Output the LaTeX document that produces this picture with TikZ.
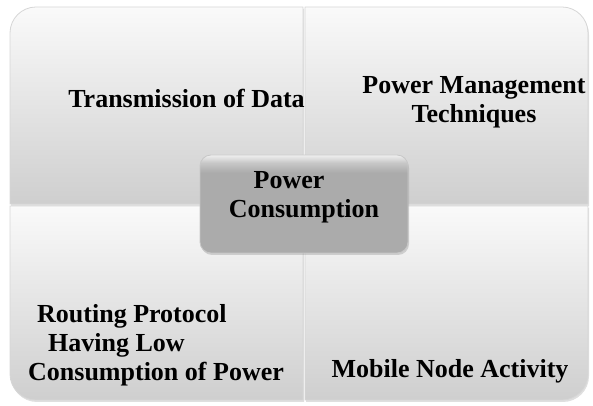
\documentclass[tikz,border=0pt]{standalone}
\usepackage{fontspec}
\setmainfont{Liberation Serif}
\usetikzlibrary{shadows}
\pgfdeclareverticalshading{coreshade}{100bp}{color(0bp)=(black!33); color(25bp)=(black!33); color(66bp)=(black!33); color(71bp)=(black!22); color(75bp)=(black!6); color(100bp)=(black!6)}

\begin{document}
\begin{tikzpicture}[
    x=1pt, y=1pt,
    quad/.style={draw=black!16, line width=0.8pt, top color=black!2, bottom color=black!19, drop shadow={opacity=0.25, shadow xshift=1pt, shadow yshift=-2pt}},
    core/.style={rectangle, rounded corners=11pt, draw=black!22, line width=0.8pt, shading=coreshade, minimum width=208pt, minimum height=98pt, drop shadow={opacity=0.3, shadow xshift=1pt, shadow yshift=-2pt}},
    lbl/.style={font=\fontsize{26}{29}\selectfont\bfseries, align=center, inner sep=0pt}
]
    \useasboundingbox (0,0) rectangle (593,406);

    % Quadrants
    \path[quad] (10,202) -- (10,373) arc[start angle=180, end angle=90, radius=26] -- (303,399) -- (303,202) -- cycle;
    \path[quad] (305,202) -- (305,399) -- (562,399) arc[start angle=90, end angle=0, radius=26] -- (588,202) -- cycle;
    \path[quad] (10,200) -- (10,32) arc[start angle=180, end angle=270, radius=26] -- (303,6) -- (303,200) -- cycle;
    \path[quad] (305,200) -- (305,6) -- (562,6) arc[start angle=270, end angle=360, radius=26] -- (588,200) -- cycle;

    % Nodes
    \node[lbl, anchor=base] (trans) at (186.5,298) {Transmission of Data};
    \node[lbl] (mgmt) at (474,303.6) {Power Management\\Techniques};
    \node[lbl, align=left, anchor=west] (route) at (28,61) {\hspace*{9pt}Routing Protocol\\\hspace*{20pt}Having Low\\Consumption of Power};
    \node[lbl, anchor=base] (mobile) at (450,28) {Mobile Node Activity};

    \node[core] (core) at (304,202) {};
    \node[lbl] (corelbl) at ([yshift=6.3pt]core.center) {Power\hspace*{30pt}\\Consumption};
\end{tikzpicture}
\end{document}
